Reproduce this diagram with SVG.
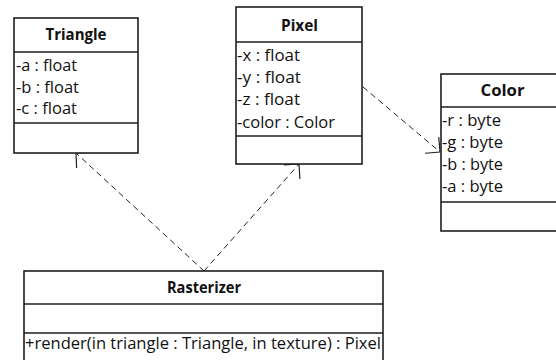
<svg xmlns="http://www.w3.org/2000/svg" width="556" height="360" viewBox="0 0 556 360">
<style>
.box{fill:#fff;stroke:#1e1e1e;stroke-width:1.6}
.sep{stroke:#1e1e1e;stroke-width:1.6}
.t{font-family:"Open Sans","Noto Sans",sans-serif;font-size:16px;fill:#111}
.h{font-weight:bold;text-anchor:middle}
.dep{fill:none;stroke:#222;stroke-width:1;stroke-dasharray:6,4}
</style>
<defs>
<marker id="open" markerUnits="userSpaceOnUse" viewBox="-13 -12 14 24" markerWidth="14" markerHeight="24" refX="0" refY="0" orient="auto" overflow="visible">
<path d="M-10.6,-10.6 L0,0 L-10.6,10.6" fill="none" stroke="#222" stroke-width="1.2" stroke-dasharray="none"/>
</marker>
</defs>
<g id="connectors">
<line class="dep" x1="204" y1="271" x2="76" y2="153" marker-end="url(#open)"/>
<line class="dep" x1="204" y1="271" x2="299" y2="164" marker-end="url(#open)"/>
<line class="dep" x1="363" y1="87" x2="440" y2="152" marker-end="url(#open)"/>
</g>
<g id="triangle">
<rect class="box" x="14" y="18" width="124" height="135"/>
<line class="sep" x1="14" y1="52" x2="138" y2="52"/>
<line class="sep" x1="14" y1="123" x2="138" y2="123"/>
<text class="t h" x="76" y="40" textLength="61" lengthAdjust="spacingAndGlyphs">Triangle</text>
<text class="t" x="16" y="71" textLength="61" lengthAdjust="spacingAndGlyphs">-a : float</text>
<text class="t" x="16" y="92.5" textLength="63" lengthAdjust="spacingAndGlyphs">-b : float</text>
<text class="t" x="16" y="114" textLength="61" lengthAdjust="spacingAndGlyphs">-c : float</text>
</g>
<g id="pixel">
<rect class="box" x="236" y="7" width="126" height="157"/>
<line class="sep" x1="236" y1="42" x2="362" y2="42"/>
<line class="sep" x1="236" y1="136" x2="362" y2="136"/>
<text class="t h" x="299.5" y="31" textLength="37" lengthAdjust="spacingAndGlyphs">Pixel</text>
<text class="t" x="237" y="61" textLength="63" lengthAdjust="spacingAndGlyphs">-x : float</text>
<text class="t" x="237" y="83" textLength="64" lengthAdjust="spacingAndGlyphs">-y : float</text>
<text class="t" x="237" y="105" textLength="63" lengthAdjust="spacingAndGlyphs">-z : float</text>
<text class="t" x="237" y="127.5" textLength="98" lengthAdjust="spacingAndGlyphs">-color : Color</text>
</g>
<g id="color">
<rect class="box" x="441" y="74" width="125" height="157"/>
<line class="sep" x1="441" y1="107" x2="566" y2="107"/>
<line class="sep" x1="441" y1="202" x2="566" y2="202"/>
<text class="t h" x="502.5" y="96" textLength="44" lengthAdjust="spacingAndGlyphs">Color</text>
<text class="t" x="442" y="126" textLength="59" lengthAdjust="spacingAndGlyphs">-r : byte</text>
<text class="t" x="442" y="148" textLength="61" lengthAdjust="spacingAndGlyphs">-g : byte</text>
<text class="t" x="442" y="170" textLength="61" lengthAdjust="spacingAndGlyphs">-b : byte</text>
<text class="t" x="442" y="192" textLength="61" lengthAdjust="spacingAndGlyphs">-a : byte</text>
</g>
<g id="rasterizer">
<rect class="box" x="24" y="271" width="359" height="100"/>
<line class="sep" x1="24" y1="304" x2="383" y2="304"/>
<line class="sep" x1="24" y1="333" x2="383" y2="333"/>
<text class="t h" x="204" y="293" textLength="74" lengthAdjust="spacingAndGlyphs">Rasterizer</text>
<text class="t" x="25" y="349" textLength="356" lengthAdjust="spacingAndGlyphs">+render(in triangle : Triangle, in texture) : Pixel</text>
</g>
</svg>
